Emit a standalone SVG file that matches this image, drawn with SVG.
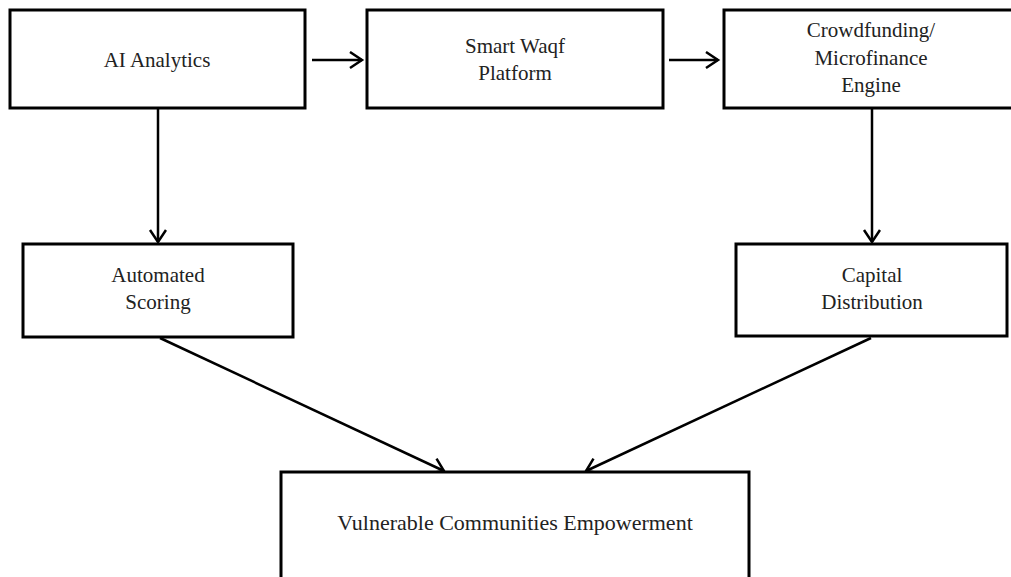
<svg xmlns="http://www.w3.org/2000/svg" width="1011" height="577" viewBox="0 0 1011 577">
<style>
.box{fill:#fff;stroke:#000;stroke-width:3}
.lbl{font-family:"Liberation Serif","Times New Roman",serif;font-size:21px;fill:#222;text-anchor:middle}
.con{stroke:#000;stroke-width:2.5;fill:none;marker-end:url(#ah)}
</style>
<defs>
<marker id="ah" markerUnits="userSpaceOnUse" markerWidth="20" markerHeight="20" refX="13" refY="9" orient="auto">
<path d="M1,1 L13,9 L1,17" fill="none" stroke="#000" stroke-width="2.5"/>
</marker>
</defs>
<rect width="1011" height="577" fill="#fff"/>
<g id="connectors">
<line class="con" x1="312" y1="60" x2="362" y2="60"/>
<line class="con" x1="669" y1="60" x2="718" y2="60"/>
<line class="con" x1="158" y1="109" x2="158" y2="242"/>
<line class="con" x1="872" y1="109" x2="872" y2="242"/>
<line class="con" x1="160" y1="338" x2="444" y2="471"/>
<line class="con" x1="871" y1="338" x2="586" y2="471"/>
</g>
<g id="n1"><rect class="box" x="10" y="10" width="295" height="98"/><text class="lbl" x="157" y="67">AI Analytics</text></g>
<g id="n2"><rect class="box" x="367" y="10" width="296" height="98"/><text class="lbl" x="515" y="53">Smart Waqf</text><text class="lbl" x="515" y="80">Platform</text></g>
<g id="n3"><rect class="box" x="724" y="10" width="295" height="98"/><text class="lbl" x="871" y="37">Crowdfunding/</text><text class="lbl" x="871" y="65">Microfinance</text><text class="lbl" x="871" y="92">Engine</text></g>
<g id="n4"><rect class="box" x="23" y="244" width="270" height="93"/><text class="lbl" x="158" y="282">Automated</text><text class="lbl" x="158" y="309">Scoring</text></g>
<g id="n5"><rect class="box" x="736" y="244" width="271" height="92"/><text class="lbl" x="872" y="282">Capital</text><text class="lbl" x="872" y="309">Distribution</text></g>
<g id="n6"><rect class="box" x="281" y="472" width="468" height="108"/><text class="lbl" x="515" y="530" style="font-size:22px">Vulnerable Communities Empowerment</text></g>
</svg>
